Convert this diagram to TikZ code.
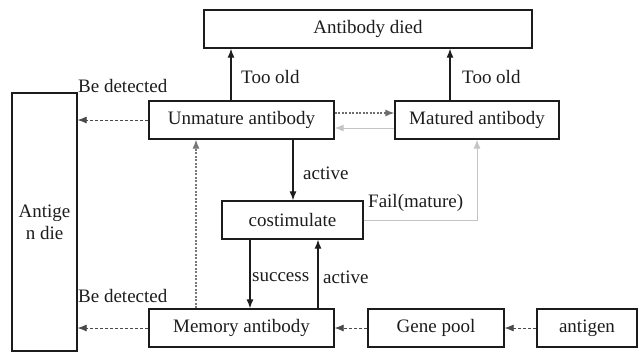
\documentclass[tikz,border=0pt]{standalone}
\usepackage{fontspec}
\setmainfont{Liberation Serif}
\usetikzlibrary{arrows.meta}
\definecolor{ink}{HTML}{1C1C1C}
\definecolor{dashgray}{HTML}{4A4A4A}
\definecolor{lightline}{HTML}{C4C4C4}
\tikzset{
  box/.style={draw=ink, line width=1.3bp, rectangle, inner sep=0pt, text=ink,
    font=\fontsize{19bp}{22bp}\selectfont, minimum height=38bp},
  lbl/.style={inner sep=0pt, text=ink, font=\fontsize{19bp}{22bp}\selectfont},
  tip/.style={-{Latex[length=9bp,width=7bp]}},
  solidarr/.style={tip, draw=ink, line width=1.2bp},
  dasharr/.style={tip, draw=dashgray, line width=0.8bp, dash pattern=on 3bp off 2bp},
  dotarr/.style={tip, draw=dashgray!80, line width=1.2bp, dash pattern=on 2bp off 1.5bp},
  greyarr/.style={tip, draw=lightline, line width=1bp},
}
\begin{document}
\begin{tikzpicture}[x=1bp, y=-1bp]
\useasboundingbox (0,0) rectangle (639,352);

% boxes
\node[box, minimum width=328bp] (died) at (368,29) {Antibody died};
\node[box, minimum width=185bp] (unm) at (241.5,120) {Unmature antibody};
\node[box, minimum width=164bp] (mat) at (477,120) {Matured antibody};
\node[box, minimum width=65bp, minimum height=258bp, align=center] (die) at (44.5,222) {Antige\\n die};
\node[box, minimum width=141bp] (cos) at (292.5,220) {costimulate};
\node[box, minimum width=185bp] (mem) at (241.5,328) {Memory antibody};
\node[box, minimum width=136bp] (gene) at (436,328) {Gene pool};
\node[box, minimum width=100bp] (ant) at (587,328) {antigen};

% ageing
\draw[solidarr] ([xshift=-10.5bp]unm.north) -- ([xshift=-10.5bp]unm.north |- died.south);
\draw[solidarr] ([xshift=-27bp]mat.north) -- ([xshift=-27bp]mat.north |- died.south);
\node[lbl, anchor=west] (old1) at (241,77) {Too old};
\node[lbl, anchor=west] (old2) at (462,77) {Too old};

% detection of the antigen
\draw[dasharr] (unm.west) -- (unm.west -| die.east);
\draw[dasharr] (mem.west) -- (mem.west -| die.east);
\node[lbl, anchor=west] (det1) at (78,86) {Be detected};
\node[lbl, anchor=west] (det2) at (78,296) {Be detected};

% maturation
\draw[dotarr] ([yshift=7bp]unm.east) -- ([yshift=7bp]unm.east -| mat.west);
\draw[greyarr] ([yshift=-8bp]mat.west) -- ([yshift=-8bp]mat.west -| unm.east);
\draw[greyarr] (cos.east) -- (cos.east -| mat.south) -- (mat.south);
\node[lbl, anchor=west] (fail) at (368,203) {Fail(mature)};

% activation
\draw[solidarr] ([xshift=51.5bp]unm.south) -- ([xshift=51.5bp]unm.south |- cos.north);
\node[lbl, anchor=west] (act1) at (303,173) {active};
\draw[solidarr] ([xshift=-42.5bp]cos.south) -- ([xshift=-42.5bp]cos.south |- mem.north);
\node[lbl, anchor=west] (succ) at (252,277) {success};
\draw[solidarr] ([xshift=25.5bp]cos.south |- mem.north) -- ([xshift=25.5bp]cos.south);
\node[lbl, anchor=west] (act2) at (323,277) {active};

% memory to unmature
\draw[dotarr, draw=dashgray!75, line width=1.1bp] ([xshift=-45.5bp]mem.north) -- ([xshift=-45.5bp]mem.north |- unm.south);

% gene pool chain
\draw[dasharr] (gene.west) -- (mem.east);
\draw[dasharr] (ant.west) -- (gene.east);
\end{tikzpicture}
\end{document}
